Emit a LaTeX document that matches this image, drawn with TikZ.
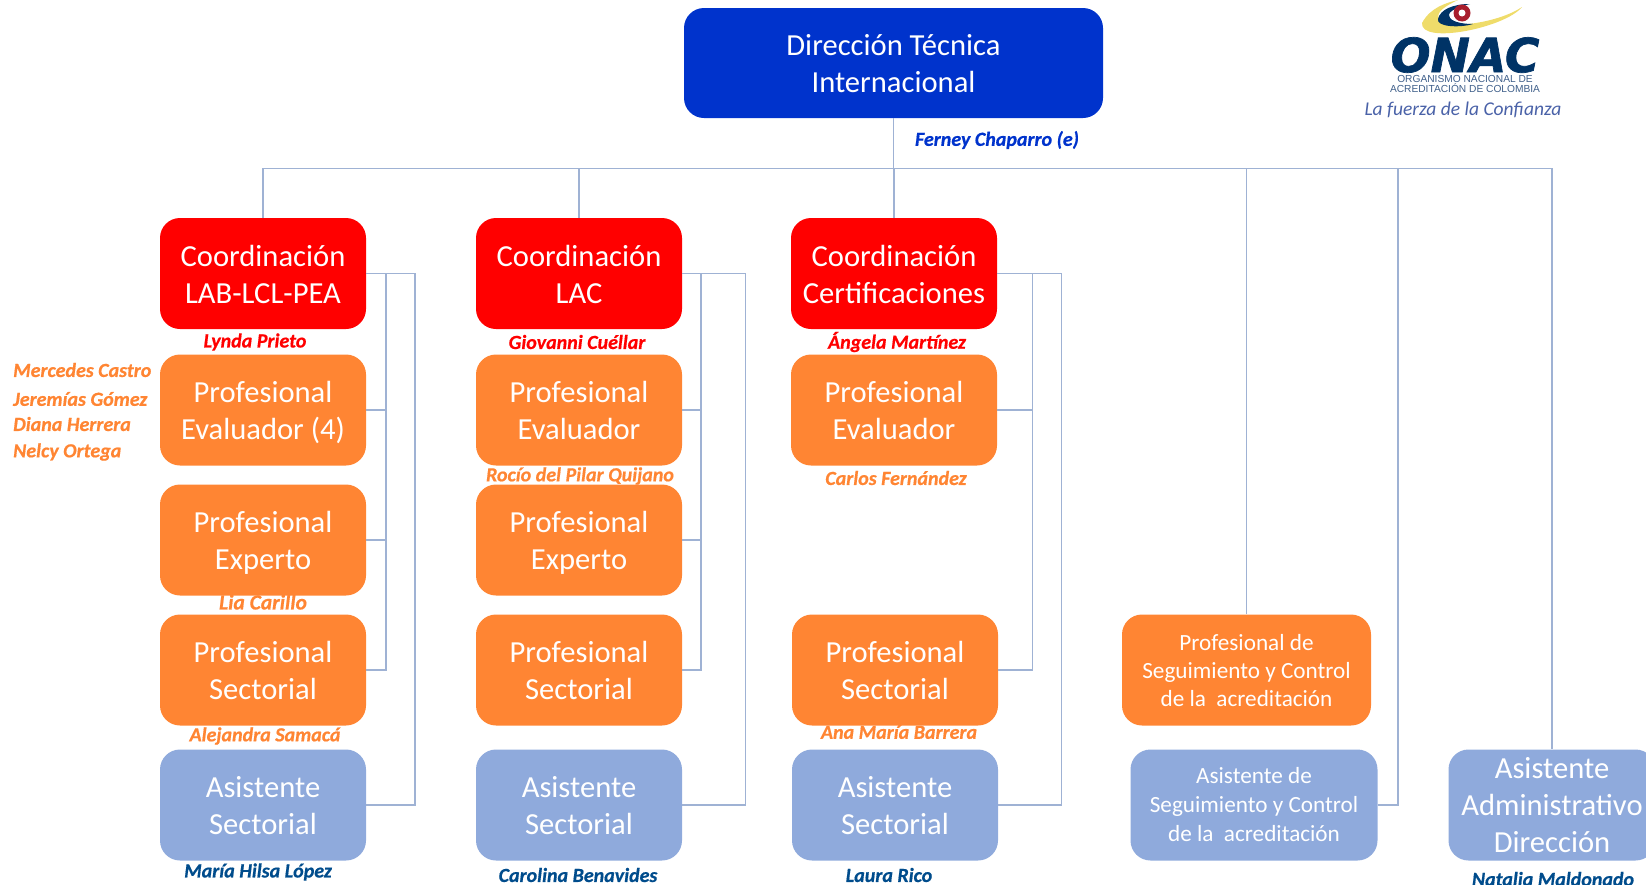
\documentclass[tikz,border=0pt]{standalone}
\usepackage{fontspec}
\setmainfont{Carlito}
\newfontfamily\logofont{Liberation Sans}
\newfontfamily\onacfont[FakeBold=1.5]{DejaVu Sans Bold Oblique}
\newfontfamily\whofont[FakeBold=0.6]{Carlito Bold Italic}
\definecolor{topblue}{HTML}{0033CC}
\definecolor{redbox}{HTML}{FF0000}
\definecolor{orangebox}{HTML}{FF8533}
\definecolor{bluebox}{HTML}{8FAADC}
\definecolor{linecol}{HTML}{9FB2D4}
\definecolor{navyname}{HTML}{004C8C}
\definecolor{logonavy}{HTML}{003366}
\definecolor{logoslate}{HTML}{3F5F8A}
\definecolor{logoyellow}{HTML}{EFDC6A}
\definecolor{logored}{HTML}{A81E2D}
\definecolor{logoscript}{HTML}{4A62A8}
\tikzset{
  x=1pt,y=-1pt,
  boxbase/.style={rounded corners=20pt,text=white,align=center,inner sep=0pt,minimum height=111pt,minimum width=206pt,font=\fontsize{30.6}{37}\selectfont,text depth=0pt,text height=59.4pt},
  topbox/.style={boxbase,fill=topblue,minimum width=419pt,minimum height=110pt,text height=59.4pt},
  redn/.style={boxbase,fill=redbox},
  orangen/.style={boxbase,fill=orangebox},
  bluen/.style={boxbase,fill=bluebox},
  conn/.style={draw=linecol,line width=1.2pt},
  who/.style={inner sep=0pt,font=\whofont\fontsize{20}{24}\selectfont},
}
\begin{document}
\begin{tikzpicture}
\useasboundingbox (0,0) rectangle (1646,884);
\clip (0,0) rectangle (1646,884);
\node[topbox] (top) at (893.5,63) {Dirección Técnica\\Internacional};
\node[redn] (c1r) at (263,273.5) {Coordinación\\LAB-LCL-PEA};
\node[orangen] (c1a) at (263,410) {Profesional\\Evaluador (4)};
\node[orangen] (c1b) at (263,540) {Profesional\\Experto};
\node[orangen] (c1c) at (263,670) {Profesional\\Sectorial};
\node[bluen] (c1d) at (263,805) {Asistente\\Sectorial};
\node[redn] (c2r) at (579,273.5) {Coordinación\\LAC};
\node[orangen] (c2a) at (579,410) {Profesional\\Evaluador};
\node[orangen] (c2b) at (579,540) {Profesional\\Experto};
\node[orangen] (c2c) at (579,670) {Profesional\\Sectorial};
\node[bluen] (c2d) at (579,805) {Asistente\\Sectorial};
\node[redn] (c3r) at (894,273.5) {Coordinación\\Certificaciones};
\node[orangen] (c3a) at (894,410) {Profesional\\Evaluador};
\node[orangen] (c3c) at (895,670) {Profesional\\Sectorial};
\node[bluen] (c3d) at (895,805) {Asistente\\Sectorial};
\node[orangen,minimum width=249pt,font=\fontsize{23.2}{28}\selectfont,text height=72pt] (ps) at (1246.5,670) {Profesional de\\Seguimiento y Control\\de la\ \ acreditación};
\node[bluen,minimum width=247pt,font=\fontsize{23.2}{29}\selectfont,text height=73.8pt] (as) at (1254,805) {Asistente de\\Seguimiento y Control\\de la\ \ acreditación};
\node[bluen,minimum width=207pt,text height=94.5pt] (ad) at (1552,805) {Asistente\\Administrativo\\Dirección};
% bus
\coordinate (bus) at (0,168.5);
\coordinate (busR) at (1398,168.5);
\draw[conn] (top.south) -- (top.south |- bus);
\draw[conn] (c1r.north) |- (ad.north |- bus) -- (ad.north);
\draw[conn] (c2r.north) -- (c2r.north |- bus);
\draw[conn] (c3r.north) -- (c3r.north |- bus);
\draw[conn] (ps.north) -- (ps.north |- bus);
\draw[conn] (as.east) -| (busR);
% column 1
\coordinate (i1) at (386,0); \coordinate (o1) at (415,0);
\draw[conn] (c1r.east) -| (i1 |- c1c.east) -- (c1c.east);
\draw[conn] (c1a.east) -- (i1 |- c1a.east);
\draw[conn] (c1b.east) -- (i1 |- c1b.east);
\draw[conn] (c1r.east) -| (o1 |- c1d.east) -- (c1d.east);
% column 2
\coordinate (i2) at (701,0); \coordinate (o2) at (745.5,0);
\draw[conn] (c2r.east) -| (i2 |- c2c.east) -- (c2c.east);
\draw[conn] (c2a.east) -- (i2 |- c2a.east);
\draw[conn] (c2b.east) -- (i2 |- c2b.east);
\draw[conn] (c2r.east) -| (o2 |- c2d.east) -- (c2d.east);
% column 3
\coordinate (i3) at (1032.5,0); \coordinate (o3) at (1061.5,0);
\draw[conn] (c3r.east) -| (i3 |- c3c.east) -- (c3c.east);
\draw[conn] (c3a.east) -- (i3 |- c3a.east);
\draw[conn] (c3r.east) -| (o3 |- c3d.east) -- (c3d.east);
% names
\node[who,text=topblue] (n0) at (997,140) {Ferney Chaparro (e)};
\node[who,text=redbox] (n1) at (255,342) {Lynda Prieto};
\node[who,text=redbox] (n2) at (577,342) {Giovanni Cuéllar};
\node[who,text=redbox] (n3) at (897,342) {Ángela Martínez};
\node[who,text=orangebox,anchor=west] (m1) at (13,370) {Mercedes Castro};
\node[who,text=orangebox,anchor=west] (m2) at (13,399) {Jeremías Gómez};
\node[who,text=orangebox,anchor=west] (m3) at (13,424) {Diana Herrera};
\node[who,text=orangebox,anchor=west] (m4) at (13,452) {Nelcy Ortega};
\node[who,text=orangebox] (n4) at (580,476) {Rocío del Pilar Quijano};
\node[who,text=orangebox] (n5) at (896,478) {Carlos Fernández};
\node[who,text=orangebox,font=\whofont\fontsize{21.5}{24}\selectfont] (n6) at (263,602) {Lia Carillo};
\node[who,text=orangebox] (n7) at (265,736) {Alejandra Samacá};
\node[who,text=orangebox] (n8) at (899,732) {Ana María Barrera};
\node[who,text=navyname] (n9) at (258,872) {María Hilsa López};
\node[who,text=navyname] (n10) at (578,875) {Carolina Benavides};
\node[who,text=navyname] (n11) at (889,875) {Laura Rico};
\node[who,text=navyname] (n12) at (1553,879) {Natalia Maldonado};
% logo
\fill[logoyellow] (1422,23) .. controls (1430,8) and (1445,3) .. (1458,0) .. controls (1441,8) and (1435,14) .. (1440,20) .. controls (1450,30) and (1500,22) .. (1522,7) .. controls (1505,28) and (1420,45) .. (1422,23) -- cycle;
\fill[logonavy] (1438,19) .. controls (1440,10) and (1452,4) .. (1470,4) .. controls (1452,8) and (1446,14) .. (1450,18) .. controls (1454,23) and (1466,24) .. (1473,24) .. controls (1460,28) and (1436,27) .. (1438,19) -- cycle;
\fill[logored] (1462,13) circle (8.5);
\fill[white] (1462,13) circle (3.5);
\node[inner sep=0pt,text=logonavy,font=\onacfont\fontsize{47}{47}\selectfont] (onac) at (1465,55) {ONAC};
\node[inner sep=0pt,text=logoslate,align=center,font=\logofont\fontsize{10.2}{10.5}\selectfont] (org) at (1465,84) {ORGANISMO NACIONAL DE\\ACREDITACIÓN DE COLOMBIA};
\node[inner sep=0pt,text=logoscript,font=\fontsize{19.5}{20}\selectfont\itshape] (lema) at (1463,110) {La fuerza de la Confianza};
\end{tikzpicture}
\end{document}
